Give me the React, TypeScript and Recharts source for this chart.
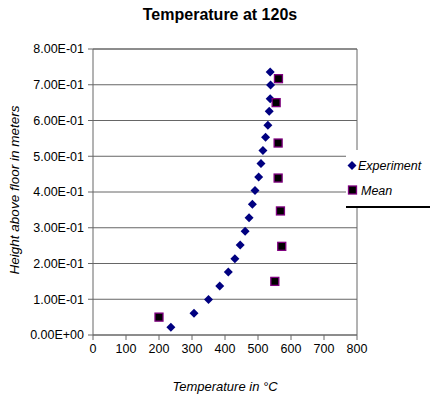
import React from "react";
import { ScatterChart, Scatter, XAxis, YAxis, CartesianGrid, ReferenceLine, Label } from "recharts";

const title = "Temperature at 120s";
const xLabel = "Temperature in °C";
const yLabel = "Height above floor in meters";
const xTicks = [0, 100, 200, 300, 400, 500, 600, 700, 800];
const yTicks = [0, 0.1, 0.2, 0.3, 0.4, 0.5, 0.6, 0.7, 0.8];

const expTemp = [537, 538, 537, 534, 530, 523, 515, 509, 502, 491, 483, 473, 461, 446, 430, 410, 384, 350, 306, 236];
const expHeight = [0.736, 0.699, 0.661, 0.626, 0.587, 0.553, 0.516, 0.48, 0.442, 0.404, 0.366, 0.328, 0.29, 0.252, 0.213, 0.176, 0.137, 0.099, 0.061, 0.022];

const meanTemp = [562, 555, 561, 561, 568, 572, 551, 200];
const meanHeight = [0.717, 0.65, 0.537, 0.439, 0.347, 0.248, 0.15, 0.05];

const expData = expTemp.map((t, i) => ({ x: t, y: expHeight[i] }));
const meanData = meanTemp.map((t, i) => ({ x: t, y: meanHeight[i] }));

const fmt = (v: number) => {
  if (v === 0) return "0.00E+00";
  const e = Math.floor(Math.log10(Math.abs(v)) + 1e-9);
  const m = v / Math.pow(10, e);
  const sign = e < 0 ? "-" : "+";
  return m.toFixed(2) + "E" + sign + String(Math.abs(e)).padStart(2, "0");
};

const Diamond = (props: any) => {
  const { cx, cy } = props;
  const r = 4.5;
  return <polygon points={`${cx},${cy - r} ${cx + r},${cy} ${cx},${cy + r} ${cx - r},${cy}`} fill="#000080" />;
};
const Square = (props: any) => {
  const { cx, cy } = props;
  const s = 8;
  return <rect x={cx - s / 2} y={cy - s / 2} width={s} height={s} fill="#000000" stroke="#800080" strokeWidth={1.3} />;
};

const font = "'Liberation Sans', Arial, sans-serif";

export default function App() {
  return (
    <div style={{ position: "absolute", left: 0, top: 0, width: 430, height: 395, background: "#fff", fontFamily: font }}>
      <div style={{ position: "absolute", left: 0, top: 6, width: 440, textAlign: "center", fontWeight: "bold", fontSize: 16, color: "#000" }}>
        {title}
      </div>
      <ScatterChart width={430} height={395} margin={{ top: 49, right: 73, bottom: 0, left: 0 }}>
        <CartesianGrid horizontal={true} vertical={false} stroke="#666" strokeWidth={1} />
        <XAxis
          type="number"
          dataKey="x"
          domain={[0, 800]}
          ticks={xTicks}
          height={60}
          stroke="#666"
          tickSize={5}
          tickMargin={4}
          tick={{ fill: "#000", fontSize: 12.5, fontFamily: font }}
        >
          <Label value={xLabel} position="insideBottom" offset={4} style={{ fontStyle: "italic", fontSize: 13, fill: "#000", fontFamily: font }} />
        </XAxis>
        <YAxis
          type="number"
          dataKey="y"
          domain={[0, 0.8]}
          ticks={yTicks}
          width={93}
          stroke="#666"
          tickSize={5}
          tickMargin={4}
          tickFormatter={fmt}
          tick={{ fill: "#000", fontSize: 12.5, fontFamily: font }}
        />
        <ReferenceLine x={800} stroke="#666" />
        <ReferenceLine y={0.8} stroke="#666" />
        <Scatter data={expData} shape={Diamond} isAnimationActive={false} />
        <Scatter data={meanData} shape={Square} isAnimationActive={false} />
      </ScatterChart>
      <svg width={30} height={395} style={{ position: "absolute", left: 0, top: 0 }}>
        <text x={0} y={0} transform="translate(19,190) rotate(-90)" textAnchor="middle" fontSize={13.5} fontStyle="italic" fontFamily={font} fill="#000">
          {yLabel}
        </text>
      </svg>
      <div style={{ position: "absolute", left: 346, top: 150, width: 84, height: 56, background: "#fff", borderBottom: "2px solid #000" }}>
        <svg width={84} height={56} style={{ position: "absolute", left: 0, top: 0 }}>
          <polygon points="6,11 10.5,15.5 6,20 1.5,15.5" fill="#000080" />
          <text x={12} y={20} fontSize={12.5} fontStyle="italic" fontFamily={font} fill="#000">Experiment</text>
          <rect x={2.5} y={36} width={8} height={8} fill="#000" stroke="#800080" strokeWidth={1.3} />
          <text x={15} y={45} fontSize={12.5} fontStyle="italic" fontFamily={font} fill="#000">Mean</text>
        </svg>
      </div>
    </div>
  );
}
